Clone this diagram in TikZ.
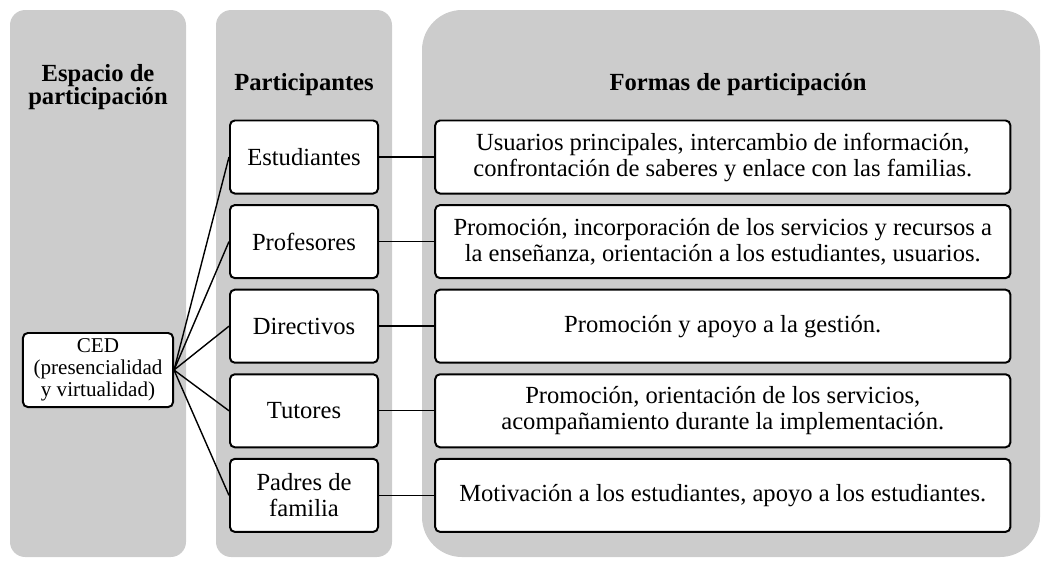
\documentclass[tikz,border=0pt]{standalone}
\usepackage{fontspec}
\setmainfont{Liberation Serif}
\usepackage{xcolor}
\usepackage{tikz}
\usetikzlibrary{positioning}

\definecolor{panelgray}{RGB}{204,204,204}

\begin{document}
\begin{tikzpicture}[
  x=0.025cm, y=-0.025cm,
  every node/.style={font=\fontsize{17.5}{18.5}\selectfont},
  panel/.style={fill=panelgray, rounded corners=0.38cm},
  bigpanel/.style={fill=panelgray, rounded corners=1cm},
  title/.style={font=\fontsize{17.5}{16.4}\selectfont\bfseries, align=center},
  space/.style={draw, fill=white, line width=1.4pt, rounded corners=0.12cm,
    minimum width=3.75cm, minimum height=1.85cm, inner sep=1pt, align=center,
    font=\fontsize{15}{15.8}\selectfont},
  actor/.style={draw, fill=white, line width=1.4pt, rounded corners=0.12cm,
    minimum width=3.7cm, minimum height=1.825cm, inner sep=1pt, align=center},
  form/.style={draw, fill=white, line width=1.4pt, rounded corners=0.12cm,
    minimum width=14.375cm, minimum height=1.825cm, inner sep=1pt, align=center},
  link/.style={line width=1pt},
]
\useasboundingbox (0,0) rectangle (1043,562);
% columns
\fill[panel] (10,10) rectangle (186,557);
\fill[panel] (216,10) rectangle (392,557);
\fill[bigpanel] (422,10) rectangle (1040,557);
% headings
\node[title] (tEsp) at (98,87) {Espacio de\\participación};
\node[title] (tPar) at (304,85) {Participantes};
\node[title] (tFor) at (738,85) {Formas de participación};
% space
\node[space] (ced) at (98,370) {CED\\(presencialidad\\y virtualidad)};
% participants
\node[actor] (est) at (304,157) {Estudiantes};
\node[actor, below=0.24cm of est] (prof) {Profesores};
\node[actor, below=0.24cm of prof] (dir) {Directivos};
\node[actor, below=0.24cm of dir] (tut) {Tutores};
\node[actor, below=0.24cm of tut] (pad) {Padres de\\familia};
% forms
\node[form, right=1.38cm of est] (fEst) {Usuarios principales, intercambio de información,\\confrontación de saberes y enlace con las familias.};
\node[form, right=1.38cm of prof] (fProf) {Promoción, incorporación de los servicios y recursos a\\la enseñanza, orientación a los estudiantes, usuarios.};
\node[form, right=1.38cm of dir] (fDir) {Promoción y apoyo a la gestión.};
\node[form, right=1.38cm of tut] (fTut) {Promoción, orientación de los servicios,\\acompañamiento durante la implementación.};
\node[form, right=1.38cm of pad] (fPad) {Motivación a los estudiantes, apoyo a los estudiantes.};
% links
\draw[link] (ced.east) -- (est.west);
\draw[link] (ced.east) -- (prof.west);
\draw[link] (ced.east) -- (dir.west);
\draw[link] (ced.east) -- (tut.west);
\draw[link] (ced.east) -- (pad.west);
\draw[link] (est) -- (fEst);
\draw[link] (prof) -- (fProf);
\draw[link] (dir) -- (fDir);
\draw[link] (tut) -- (fTut);
\draw[link] (pad) -- (fPad);
\end{tikzpicture}
\end{document}
